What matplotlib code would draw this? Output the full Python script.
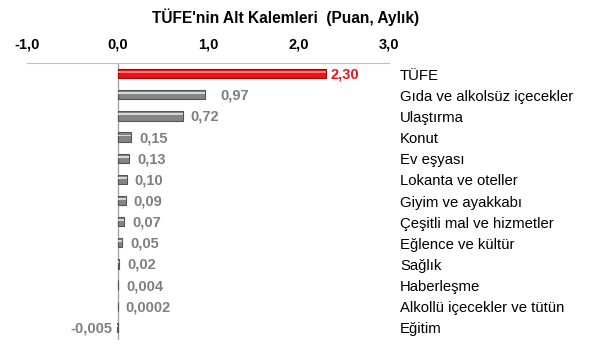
import matplotlib
matplotlib.use("Agg")
import matplotlib.pyplot as plt

categories = ["TÜFE", "Gıda ve alkolsüz içecekler", "Ulaştırma", "Konut", "Ev eşyası",
              "Lokanta ve oteller", "Giyim ve ayakkabı", "Çeşitli mal ve hizmetler",
              "Eğlence ve kültür", "Sağlık", "Haberleşme", "Alkollü içecekler ve tütün", "Eğitim"]
values = [2.30, 0.97, 0.72, 0.15, 0.13, 0.10, 0.09, 0.07, 0.05, 0.02, 0.004, 0.0002, -0.005]
value_labels = ["2,30", "0,97", "0,72", "0,15", "0,13", "0,10", "0,09", "0,07", "0,05", "0,02",
                "0,004", "0,0002", "-0,005"]
xticks = [-1.0, 0.0, 1.0, 2.0, 3.0]
xtick_labels = ["-1,0", "0,0", "1,0", "2,0", "3,0"]
title = "TÜFE'nin Alt Kalemleri  (Puan, Aylık)"

plt.rcParams['font.family'] = ['Liberation Sans', 'DejaVu Sans']

fig = plt.figure(figsize=(5.91, 3.56), dpi=100)
ax = fig.add_axes([27/591, 1-340/356, (389-27)/591, (340-63)/356])

ys = list(range(len(categories)))
colors = ['#e8141b' if i == 0 else '#858585' for i in ys]
edges = ['#a80000' if i == 0 else '#555555' for i in ys]
ax.barh(ys, values, height=0.44, color=colors, edgecolor=edges, linewidth=0.8, zorder=3)
# highlight stripe for a slight 3D look
hl = ['#ff7a7a' if i == 0 else '#d6d6d6' for i in ys]
ax.barh([y - 0.07 for y in ys], values, height=0.09, color=hl, linewidth=0, zorder=4)

ax.set_xlim(-1, 3)
ax.set_ylim(12.6, -0.5)
ax.xaxis.tick_top()
ax.set_xticks(xticks)
ax.set_xticklabels(xtick_labels, fontsize=10.5, fontweight='bold')
ax.tick_params(axis='x', length=0, pad=8)
ax.set_yticks([])
for s in ['left', 'right', 'bottom']:
    ax.spines[s].set_visible(False)
ax.spines['top'].set_color('#bfbfbf')
ax.axvline(0, color='#a6a6a6', linewidth=1.0, zorder=2)

for i, (v, lab) in enumerate(zip(values, value_labels)):
    if v >= 0:
        off = 0.09 if i != 0 else 0.05
        if i == 1:
            off = 0.17
        ax.text(v + off, i + 0.05, lab, ha='left', va='center', fontsize=10.5, fontweight='bold',
                color='#e8141b' if i == 0 else '#7f7f7f')
    else:
        ax.text(v - 0.05, i + 0.05, lab, ha='right', va='center', fontsize=10.5, fontweight='bold',
                color='#7f7f7f')
    ax.text(3.12, i + 0.1, categories[i], ha='left', va='center', fontsize=10.7, color='black',
            clip_on=False)

fig.text(286/591, 1-17/356, title, ha='center', va='center', fontsize=11.2, fontweight='bold')

fig.savefig("out.png", dpi=100)
